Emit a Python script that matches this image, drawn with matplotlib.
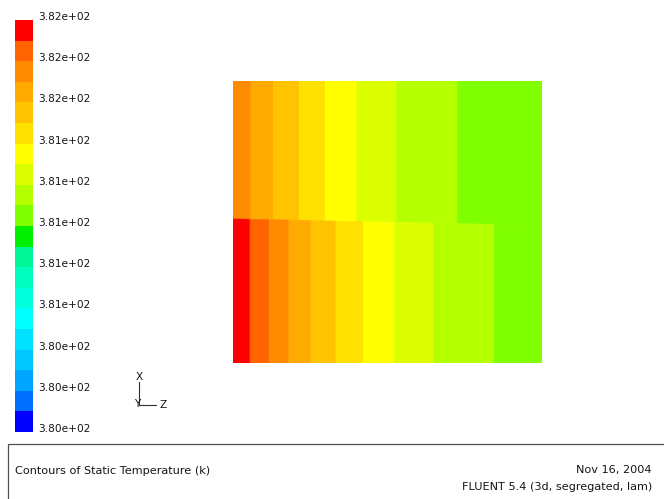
import matplotlib
matplotlib.use('Agg')
import matplotlib.pyplot as plt
import numpy as np
from matplotlib.colors import ListedColormap, BoundaryNorm
from matplotlib.cm import ScalarMappable
from matplotlib.patches import Rectangle
from matplotlib.lines import Line2D

# contour palette, lowest level first (blue -> red)
level_colors = [
    '#0000ff', '#006eff', '#00a5ff', '#00c8ff', '#00e1ff',
    '#00ffff', '#00ffdc', '#00ffbe', '#00f596', '#00f000',
    '#80ff00', '#b4ff00', '#dcff00', '#ffff00', '#ffe100',
    '#ffc300', '#ffaa00', '#ff8c00', '#ff6400', '#ff0000',
]
level_labels = ['3.80e+02', '3.80e+02', '3.80e+02', '3.81e+02', '3.81e+02', '3.81e+02',
                '3.81e+02', '3.81e+02', '3.82e+02', '3.82e+02', '3.82e+02']

# band edges along the plane (fraction of width) and contour level of each band
upper_edges = [0.0, 0.058, 0.13, 0.214, 0.298, 0.40, 0.53, 0.726, 1.0]
upper_levels = [17, 16, 15, 14, 13, 12, 11, 10]
lower_edges = [0.0, 0.055, 0.117, 0.181, 0.252, 0.333, 0.422, 0.522, 0.648, 0.845, 1.0]
lower_levels = [19, 18, 17, 16, 15, 14, 13, 12, 11, 10]

# interface between the two zones (slightly sloped)
interface_x = [0.0, 1.0]
interface_y = [0.511, 0.488]

W, H = 664, 499
fig = plt.figure(figsize=(W / 100, H / 100), dpi=100)
fig.patch.set_facecolor('white')
plt.rcParams['font.family'] = ['DejaVu Sans']
fs = 7.6
fs_title = 8.1


def px(l, t, r, b):
    return [l / W, 1 - b / H, (r - l) / W, (b - t) / H]


# contour plane
ax = fig.add_axes(px(233, 81, 542, 363))
ax.set_xlim(0, 1)
ax.set_ylim(0, 1)
ax.axis('off')

for edges, levels, upper in [(upper_edges, upper_levels, True),
                             (lower_edges, lower_levels, False)]:
    for x0, x1, lev in zip(edges[:-1], edges[1:], levels):
        y0, y1 = np.interp([x0, x1], interface_x, interface_y)
        if upper:
            xs, ys = [x0, x1, x1, x0], [y0, y1, 1, 1]
        else:
            xs, ys = [x0, x1, x1, x0], [0, 0, y1, y0]
        c = level_colors[lev]
        ax.fill(xs, ys, facecolor=c, edgecolor=c, linewidth=0.4)

# colour scale
cax = fig.add_axes(px(15, 20, 33.3, 432))
cmap = ListedColormap(level_colors)
norm = BoundaryNorm(np.arange(len(level_colors) + 1), cmap.N)
cbar = fig.colorbar(ScalarMappable(norm=norm, cmap=cmap), cax=cax)
cbar.outline.set_visible(False)
cbar.set_ticks(np.arange(0, len(level_colors) + 1, 2))
cbar.set_ticklabels(level_labels)
cax.minorticks_off()
cax.tick_params(which='both', length=0, pad=3.6, labelsize=fs, labelcolor='#151515')
for t in cax.get_yticklabels():
    t.set_verticalalignment('baseline')

# axis triad
fig.add_artist(Line2D([139 / W, 139 / W], [1 - 382 / H, 1 - 405 / H], color='#303030', lw=0.8))
fig.add_artist(Line2D([139 / W, 156 / W], [1 - 405 / H, 1 - 405 / H], color='#303030', lw=0.8))
fig.text(139 / W, 1 - 377 / H, 'X', fontsize=fs, ha='center', va='center', color='#151515')
fig.text(137 / W, 1 - 404 / H, 'Y', fontsize=fs, ha='center', va='center', color='#151515')
fig.text(163 / W, 1 - 405 / H, 'Z', fontsize=fs, ha='center', va='center', color='#151515')

# title block
fig.add_artist(Rectangle((7.5 / W, -0.02), 1.1, (H - 444.3) / H + 0.02,
                         transform=fig.transFigure, fill=False,
                         edgecolor='#505050', linewidth=0.9))
fig.text(15 / W, 1 - 471 / H, 'Contours of Static Temperature (k)',
         fontsize=fs_title, va='center', color='#151515')
fig.text(652 / W, 1 - 470 / H, 'Nov 16, 2004',
         fontsize=fs_title, ha='right', va='center', color='#151515')
fig.text(652 / W, 1 - 487 / H, 'FLUENT 5.4 (3d, segregated, lam)',
         fontsize=fs_title, ha='right', va='center', color='#151515')

fig.savefig('out.png', dpi=100)
